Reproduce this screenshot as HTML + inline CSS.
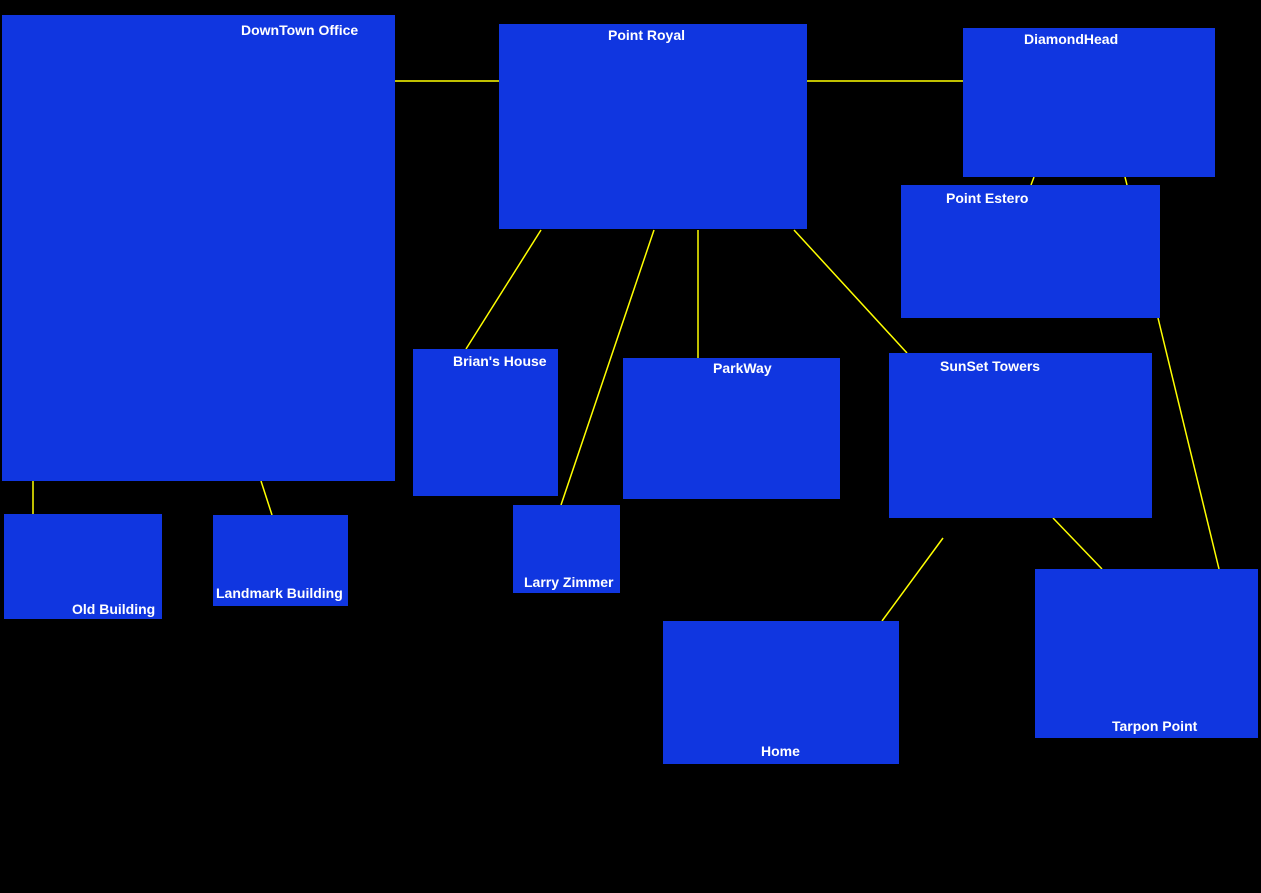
<!DOCTYPE html>
<html><head><style>
html,body{margin:0;padding:0;background:#000;width:1261px;height:893px;overflow:hidden}
.b{position:absolute;background:#1036e0}
.t{position:absolute;color:#fff;font:bold 14px "Liberation Sans",sans-serif;white-space:nowrap;line-height:16px}
svg{position:absolute;left:0;top:0}
</style></head><body>
<svg width="1261" height="893">
<g stroke="#ffff00" stroke-width="1.5" fill="none">
<line x1="395" y1="81" x2="499" y2="81"/>
<line x1="807" y1="81" x2="963" y2="81"/>
<line x1="541" y1="230" x2="466" y2="349"/>
<line x1="654" y1="230" x2="561" y2="505"/>
<line x1="698" y1="230" x2="698" y2="358"/>
<line x1="794" y1="230" x2="907" y2="353"/>
<line x1="1034" y1="177" x2="1031" y2="185"/>
<line x1="1125" y1="177" x2="1127" y2="185"/>
<line x1="1158" y1="318" x2="1219" y2="569"/>
<line x1="1053" y1="518" x2="1102" y2="569"/>
<line x1="943" y1="538" x2="882" y2="621"/>
<line x1="33" y1="481" x2="33" y2="514"/>
<line x1="261" y1="481" x2="272" y2="515"/>
</g></svg>
<div class="b" style="left:2px;top:15px;width:393px;height:466px"></div>
<div class="b" style="left:499px;top:24px;width:308px;height:205px"></div>
<div class="b" style="left:963px;top:28px;width:252px;height:149px"></div>
<div class="b" style="left:901px;top:185px;width:259px;height:133px"></div>
<div class="b" style="left:413px;top:349px;width:145px;height:147px"></div>
<div class="b" style="left:623px;top:358px;width:217px;height:141px"></div>
<div class="b" style="left:889px;top:353px;width:263px;height:165px"></div>
<div class="b" style="left:513px;top:505px;width:107px;height:88px"></div>
<div class="b" style="left:4px;top:514px;width:158px;height:105px"></div>
<div class="b" style="left:213px;top:515px;width:135px;height:91px"></div>
<div class="b" style="left:663px;top:621px;width:236px;height:143px"></div>
<div class="b" style="left:1035px;top:569px;width:223px;height:169px"></div>
<div class="t" style="left:241px;top:22px">DownTown Office</div>
<div class="t" style="left:608px;top:27px">Point Royal</div>
<div class="t" style="left:1024px;top:31px">DiamondHead</div>
<div class="t" style="left:946px;top:190px">Point Estero</div>
<div class="t" style="left:453px;top:353px">Brian's House</div>
<div class="t" style="left:713px;top:360px">ParkWay</div>
<div class="t" style="left:940px;top:358px">SunSet Towers</div>
<div class="t" style="left:524px;top:574px">Larry Zimmer</div>
<div class="t" style="left:72px;top:601px">Old Building</div>
<div class="t" style="left:216px;top:585px">Landmark Building</div>
<div class="t" style="left:761px;top:743px">Home</div>
<div class="t" style="left:1112px;top:718px">Tarpon Point</div>
</body></html>
